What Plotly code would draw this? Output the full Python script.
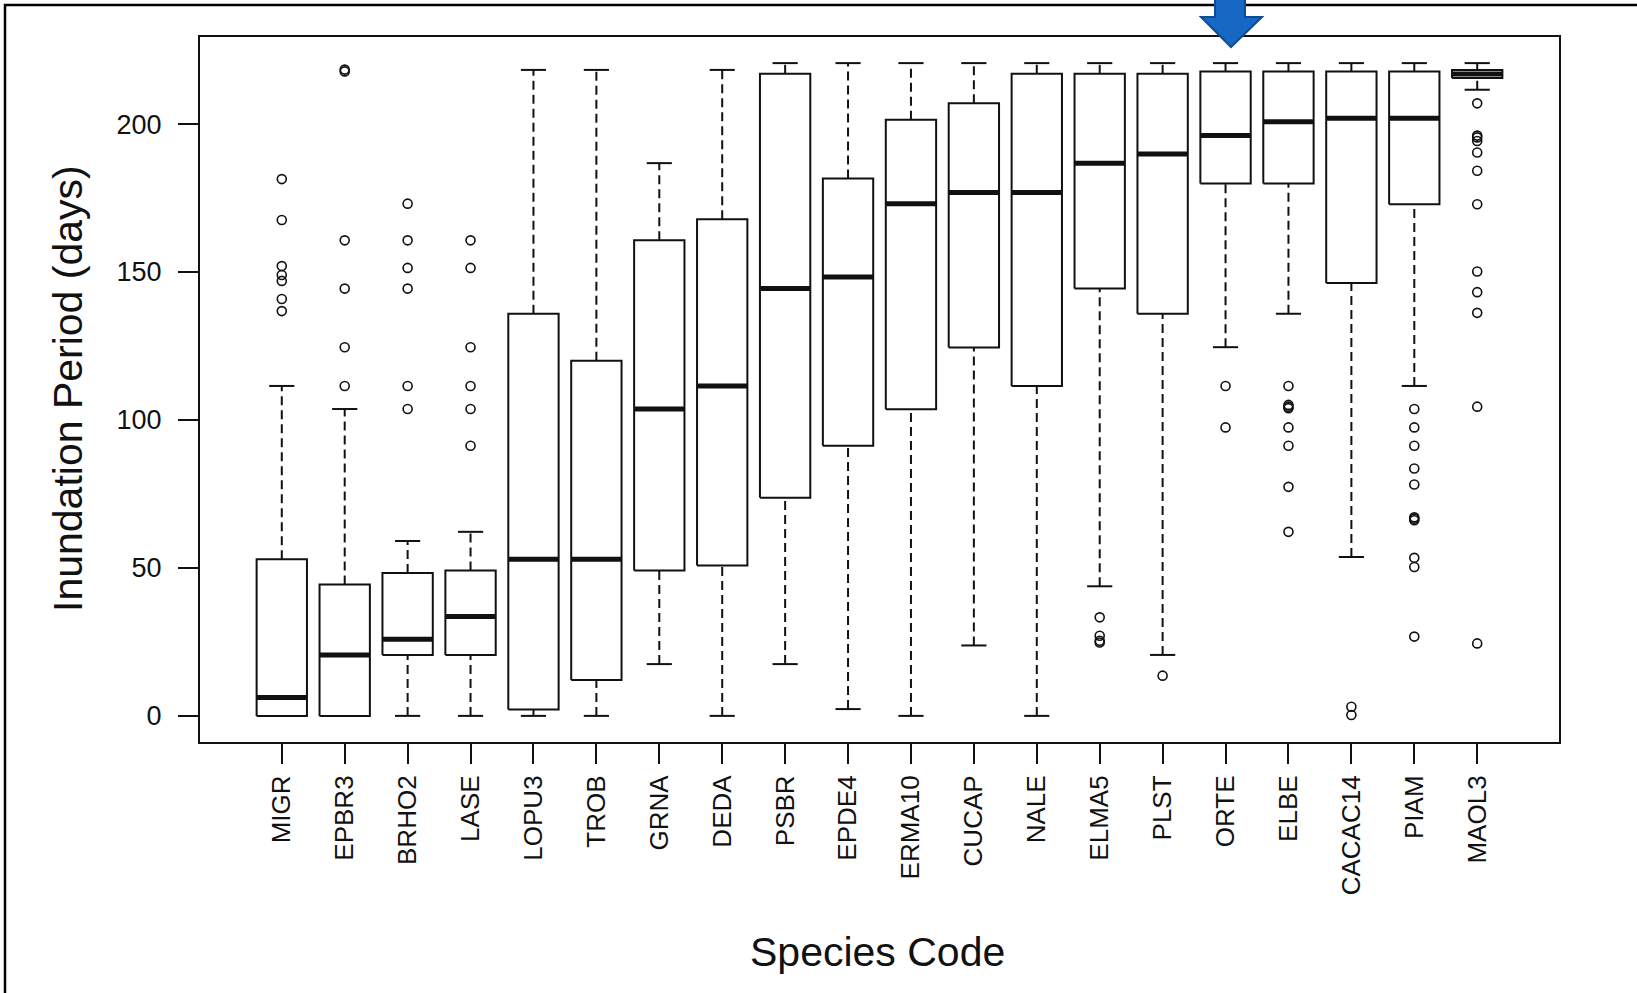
import plotly.graph_objects as go

# ---------------- data ----------------
species = ["MIGR", "EPBR3", "BRHO2", "LASE", "LOPU3", "TROB", "GRNA", "DEDA", "PSBR", "EPDE4",
           "ERMA10", "CUCAP", "NALE", "ELMA5", "PLST", "ORTE", "ELBE", "CACAC14", "PIAM", "MAOL3"]
lower_whisker = [0, 0, 0, 0, 0, 0, 17.5, 0, 17.5, 2.3,
                 0, 23.8, 0, 43.8, 20.6, 124.6, 135.9, 53.7, 111.5, 211.6]
q1 = [0, 0, 20.6, 20.6, 2.2, 12.1, 49.1, 50.8, 73.7, 91.3,
      103.6, 124.5, 111.5, 144.4, 135.9, 179.9, 179.9, 146.3, 172.9, 215.6]
median = [6.2, 20.6, 25.9, 33.6, 52.9, 52.9, 103.7, 111.5, 144.4, 148.3,
          173.1, 176.9, 176.9, 186.8, 189.9, 196.1, 200.8, 202.0, 202.0, 216.9]
q3 = [52.9, 44.4, 48.3, 49.1, 135.9, 120.0, 160.7, 167.8, 217.0, 181.6,
      201.5, 207.0, 217.0, 217.0, 217.0, 217.8, 217.8, 217.8, 217.8, 218.3]
upper_whisker = [111.5, 103.7, 59.1, 62.2, 218.3, 218.3, 186.8, 218.3, 220.6, 220.6,
                 220.6, 220.6, 220.6, 220.6, 220.6, 220.6, 220.6, 220.6, 220.6, 220.6]
outliers = [
    [181.4, 167.6, 152.0, 149.0, 147.0, 140.9, 136.8],           # MIGR
    [217.8, 218.4, 160.7, 144.4, 124.6, 111.5],                  # EPBR3
    [173.1, 160.7, 151.4, 144.4, 111.5, 103.7],                  # BRHO2
    [160.7, 151.4, 124.6, 111.5, 103.7, 91.3],                   # LASE
    [], [], [], [], [], [], [], [], [],                          # LOPU3 .. NALE
    [33.3, 27.1, 24.8, 25.4],                                    # ELMA5
    [13.6],                                                      # PLST
    [111.5, 97.5],                                               # ORTE
    [111.5, 104.5, 105.1, 104.0, 97.5, 91.3, 77.4, 62.2],        # ELBE
    [3.1, 0.3],                                                  # CACAC14
    [103.7, 97.5, 91.3, 83.6, 78.2, 66.6, 67.1, 66.1, 53.4, 50.3, 26.8],  # PIAM
    [207.0, 196.1, 195.5, 194.3, 190.4, 184.2, 172.9, 150.2, 143.2, 136.2, 104.5, 24.5],  # MAOL3
]

y_ticks = [0, 50, 100, 150, 200]
x_title = "Species Code"
y_title = "Inundation Period (days)"

# ---------------- geometry / style ----------------
W, H = 1637, 993
L, R, T, B = 200, 1559, 37, 742
BOX_HALF = 0.4
CAP_HALF = 0.2
INK = "#111111"
FONT = "Liberation Sans, Arial, sans-serif"

n = len(species)
pos = list(range(n))

data_max = max(upper_whisker + [v for o in outliers for v in o])
data_min = min(lower_whisker + [v for o in outliers for v in o])
pad = 0.04 * (data_max - data_min)
y_range = [data_min - pad, data_max + pad]
x_pad = 0.04 * n
x_range = [-0.5 - x_pad, n - 0.5 + x_pad]

# build traces with gaps
wx, wy = [], []      # dashed whiskers
cx, cy = [], []      # caps
bx, by = [], []      # boxes
mx, my = [], []      # medians
ox, oy = [], []      # outliers
for i in pos:
    lw, a, m, b, uw = lower_whisker[i], q1[i], median[i], q3[i], upper_whisker[i]
    if uw > b:
        wx += [i, i, None]; wy += [b, uw, None]
    if lw < a:
        wx += [i, i, None]; wy += [lw, a, None]
    cx += [i - CAP_HALF, i + CAP_HALF, None, i - CAP_HALF, i + CAP_HALF, None]
    cy += [uw, uw, None, lw, lw, None]
    bx += [i - BOX_HALF, i + BOX_HALF, i + BOX_HALF, i - BOX_HALF, i - BOX_HALF, None]
    by += [a, a, b, b, a, None]
    mx += [i - BOX_HALF, i + BOX_HALF, None]
    my += [m, m, None]
    for v in outliers[i]:
        ox.append(i); oy.append(v)

fig = go.Figure()
fig.add_trace(go.Scatter(x=wx, y=wy, mode="lines", hoverinfo="skip",
                         line=dict(color=INK, width=2, dash="9px,5px")))
fig.add_trace(go.Scatter(x=cx, y=cy, mode="lines", hoverinfo="skip",
                         line=dict(color=INK, width=2)))
fig.add_trace(go.Scatter(x=bx, y=by, mode="lines", fill="toself", fillcolor="white",
                         hoverinfo="skip", line=dict(color=INK, width=2)))
fig.add_trace(go.Scatter(x=mx, y=my, mode="lines", hoverinfo="skip",
                         line=dict(color=INK, width=5)))
fig.add_trace(go.Scatter(x=ox, y=oy, mode="markers", hoverinfo="skip",
                         marker=dict(symbol="circle-open", size=9, color=INK,
                                     line=dict(width=1.6, color=INK))))

def px(X):
    return (X - L) / (R - L)

def py(Y):
    return (B - Y) / (B - T)

shapes = [
    # outer frame of the picture (cropped on right/bottom)
    dict(type="rect", xref="paper", yref="paper",
         x0=px(5), x1=px(W + 40), y0=py(H + 40), y1=py(5),
         line=dict(color="black", width=2.5), layer="above"),
]
# blue arrow pointing at ORTE
arrow = [(1215, -10), (1245, -10), (1245, 17), (1262, 17), (1231, 47), (1201, 17), (1215, 17)]
path = "M " + " L ".join(f"{px(X):.5f},{py(Y):.5f}" for X, Y in arrow) + " Z"
shapes.append(dict(type="path", xref="paper", yref="paper", path=path,
                   fillcolor="#1668C4", line=dict(color="#0E4C92", width=2), layer="above"))

annotations = [
    dict(text=y_title, xref="paper", yref="paper", x=px(68), y=py(389),
         xanchor="center", yanchor="middle", textangle=-90, showarrow=False,
         font=dict(family=FONT, size=41, color=INK)),
    dict(text=x_title, xref="paper", yref="paper", x=px(877), y=py(952),
         xanchor="center", yanchor="middle", showarrow=False,
         font=dict(family=FONT, size=41, color=INK)),
]

fig.update_layout(
    width=W, height=H,
    margin=dict(l=L, r=W - R, t=T, b=H - B, pad=0),
    paper_bgcolor="white", plot_bgcolor="white",
    showlegend=False,
    shapes=shapes, annotations=annotations,
    font=dict(family=FONT, color=INK),
)
fig.update_xaxes(range=x_range, tickmode="array", tickvals=pos, ticktext=species,
                 tickangle=-90, ticks="outside", ticklen=20, tickwidth=2, tickcolor=INK,
                 showline=True, linewidth=2, linecolor=INK, mirror=True,
                 showgrid=False, zeroline=False, ticklabelstandoff=1,
                 tickfont=dict(family=FONT, size=26, color=INK))
fig.update_yaxes(range=y_range, tickmode="array", tickvals=y_ticks,
                 ticks="outside", ticklen=20, tickwidth=2, tickcolor=INK,
                 showline=True, linewidth=2, linecolor=INK, mirror=True,
                 showgrid=False, zeroline=False, ticklabelstandoff=11,
                 tickfont=dict(family=FONT, size=27, color=INK))

# remove the default 8px page margin so the figure sits at the window's origin
fig.write_html("out.html", config={"displayModeBar": False},
               post_script="document.body.style.margin='0';")
